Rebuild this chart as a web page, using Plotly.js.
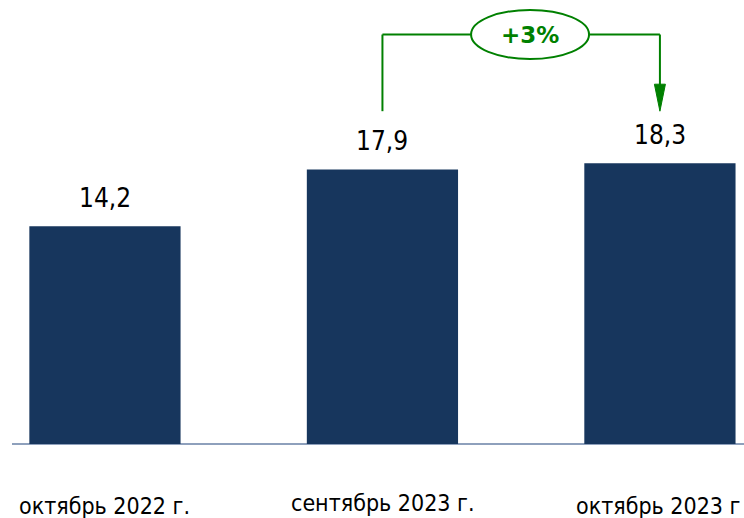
<!DOCTYPE html>
<html>
<head>
<meta charset="utf-8">
<script src="https://cdn.plot.ly/plotly-3.0.1.min.js"></script>
<style>html,body{margin:0;padding:0;background:#fff;}#chart{width:744px;height:518px;}</style>
</head>
<body>
<div id="chart"></div>
<script>
var categories = ["октябрь 2022 г.", "сентябрь 2023 г.", "октябрь 2023 г"];
var values = [14.2, 17.9, 18.3];
var valueLabels = ["14,2", "17,9", "18,3"];
var changeLabel = "+3%";

var barColor = "#17365D";
var green = "#008000";
var fontFam = "DejaVu Sans Condensed, DejaVu Sans, sans-serif";

var xIdx = categories.map(function(_, i){ return i; });

var trace = {
  type: "bar",
  x: xIdx,
  y: values,
  marker: {color: barColor, line: {width: 0}},
  width: 0.545,
  hoverinfo: "none"
};

var annotations = [];
// value labels
values.forEach(function(v, i){
  annotations.push({
    x: i, y: v, xref: "x", yref: "y", text: valueLabels[i], showarrow: false,
    yanchor: "middle", yshift: 28, font: {family: fontFam, size: 26, color: "#000"}
  });
});
// category labels (slightly staggered as in the source)
var labelShift = [-62, -59, -62];
categories.forEach(function(c, i){
  annotations.push({
    x: i, y: 0, xref: "x", yref: "y", text: c, showarrow: false,
    yanchor: "middle", yshift: labelShift[i], xshift: (i === 2 ? -2 : 0),
    font: {family: fontFam, size: 23, color: "#000"}
  });
});

// bracket geometry in data units
var topY = 26.7;
var startY = 21.7;
var tipY = 21.7;
var ellCx = 1.532, ellRx = 0.2126, ellRy = 1.6;

annotations.push({
  x: ellCx, y: topY, xref: "x", yref: "y", text: "<b>" + changeLabel + "</b>", showarrow: false,
  font: {family: "DejaVu Sans, sans-serif", size: 23, color: green}
});

var shapes = [
  {type: "line", xref: "x", yref: "y", x0: 1, x1: 1, y0: startY, y1: topY, line: {color: green, width: 2}},
  {type: "line", xref: "x", yref: "y", x0: 1, x1: ellCx - ellRx, y0: topY, y1: topY, line: {color: green, width: 2}},
  {type: "line", xref: "x", yref: "y", x0: ellCx + ellRx, x1: 2, y0: topY, y1: topY, line: {color: green, width: 2}},
  {type: "line", xref: "x", yref: "y", x0: 2, x1: 2, y0: tipY + 1.6, y1: topY, line: {color: green, width: 2}},
  {type: "circle", xref: "x", yref: "y", x0: ellCx - ellRx, x1: ellCx + ellRx, y0: topY - ellRy, y1: topY + ellRy,
   line: {color: green, width: 2}, fillcolor: "rgba(0,0,0,0)"},
  {type: "path", xref: "x", yref: "y", xsizemode: "pixel", ysizemode: "pixel", xanchor: 2, yanchor: tipY,
   path: "M-5.5,27 L5.5,27 L0,0 Z", fillcolor: green, line: {color: green, width: 1}}
];

var layout = {
  width: 744, height: 518,
  margin: {l: 12, r: 0, t: 0, b: 74},
  paper_bgcolor: "#fff", plot_bgcolor: "#fff",
  showlegend: false,
  xaxis: {range: [-0.335, 2.303], showticklabels: false, ticks: "", showgrid: false, zeroline: false,
          showline: false, fixedrange: true},
  yaxis: {range: [0, 28.95], showticklabels: false, ticks: "", showgrid: false, zeroline: true,
          zerolinecolor: "#8EA0BC", zerolinewidth: 2, showline: false, fixedrange: true},
  annotations: annotations,
  shapes: shapes
};

Plotly.newPlot("chart", [trace], layout, {displayModeBar: false, staticPlot: true});
</script>
</body>
</html>
